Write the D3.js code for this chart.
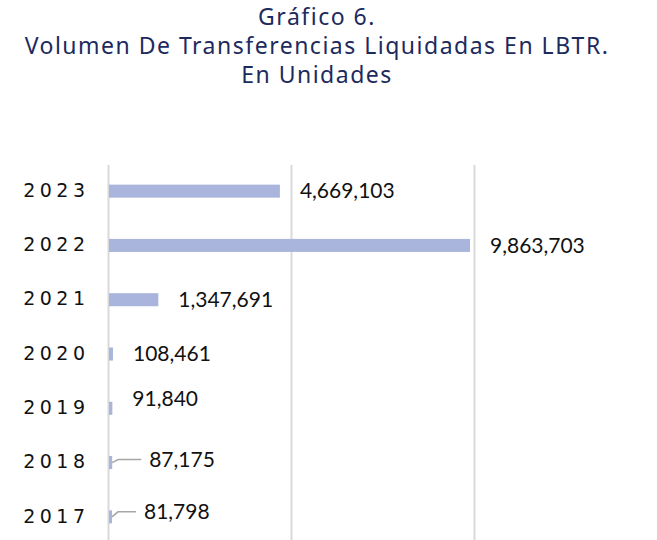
<!DOCTYPE html>
<html>
<head>
<meta charset="utf-8">
<script src="https://cdn.jsdelivr.net/npm/d3@7"></script>
<style>
  body { margin: 0; background: #fff; }
</style>
</head>
<body>
<svg></svg>
<script>
const [width, height] = [657, 540];

// data
const titleLines = ["Gráfico 6.", "Volumen De Transferencias Liquidadas En LBTR.", "En Unidades"];
const years = ["2023", "2022", "2021", "2020", "2019", "2018", "2017"];
const values = [4669103, 9863703, 1347691, 108461, 91840, 87175, 81798];
const gridTicks = [0, 5000000, 10000000];

// labels that got nudged by hand in the original
const labelNudge = {
  "2019": { dx: 0, dy: -10, leader: false },
  "2018": { dx: 17, dy: -3, leader: true },
  "2017": { dx: 12, dy: -5, leader: true }
};

const svg = d3.select("svg").attr("width", width).attr("height", height);

const x = d3.scaleLinear().domain([0, 10000000]).range([109, 475]);
const y = d3.scaleBand().domain(years).range([164, 544]).paddingInner(0.76).paddingOuter(0.38);

// title
svg.append("g").selectAll("text")
  .data(titleLines)
  .join("text")
  .attr("x", 317)
  .attr("y", (d, i) => 25 + i * 29)
  .attr("text-anchor", "middle")
  .style("font-family", "'Noto Sans', sans-serif")
  .style("font-size", "23px")
  .style("letter-spacing", "1.5px")
  .attr("fill", "#1d2a5e")
  .text(d => d);

// grid
svg.append("g").selectAll("line")
  .data(gridTicks)
  .join("line")
  .attr("x1", d => x(d) - 0.5).attr("x2", d => x(d) - 0.5)
  .attr("y1", 165).attr("y2", height)
  .attr("stroke", "#d9d9d9")
  .attr("stroke-width", 2);

// bars
const data = years.map((yr, i) => ({ year: yr, value: values[i] }));

svg.append("g").selectAll("rect")
  .data(data)
  .join("rect")
  .attr("x", x(0))
  .attr("y", d => y(d.year))
  .attr("width", d => Math.max(x(d.value) - x(0), 1.5))
  .attr("height", y.bandwidth())
  .attr("fill", "#a9b5dc");

// year labels
svg.append("g").selectAll("text")
  .data(years)
  .join("text")
  .attr("x", 89.5)
  .attr("y", d => y(d) + y.bandwidth() / 2 - 1)
  .attr("dy", "0.35em")
  .attr("text-anchor", "end")
  .style("font-family", "'DejaVu Sans', sans-serif")
  .style("font-size", "19px")
  .style("letter-spacing", "4.5px")
  .attr("fill", "#111")
  .text(d => d);

const fmt = d3.format(",");
const labelPos = d => {
  const n = labelNudge[d.year] || { dx: 0, dy: 0 };
  return { x: x(d.value) + 20 + n.dx, y: y(d.year) + y.bandwidth() / 2 + n.dy, leader: n.leader };
};

// leader lines
svg.append("g").selectAll("path")
  .data(data.filter(d => labelPos(d).leader))
  .join("path")
  .attr("d", d => {
    const p = labelPos(d);
    const x0 = x(d.value), y0 = y(d.year) + y.bandwidth() / 2;
    return `M${x0},${y0} L${x0 + 6},${p.y} L${p.x - 8},${p.y}`;
  })
  .attr("fill", "none")
  .attr("stroke", "#a6a6a6")
  .attr("stroke-width", 1.5);

// value labels
svg.append("g").selectAll("text")
  .data(data)
  .join("text")
  .attr("x", d => labelPos(d).x)
  .attr("y", d => labelPos(d).y)
  .attr("dy", "0.35em")
  .style("font-family", "Lato, 'Open Sans', sans-serif")
  .style("font-size", "21px")
  .attr("fill", "#111")
  .text(d => fmt(d.value));
</script>
</body>
</html>
